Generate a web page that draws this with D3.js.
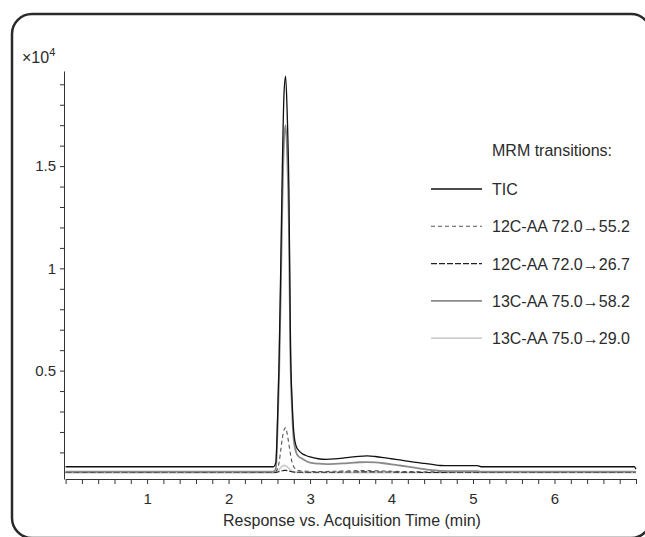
<!DOCTYPE html>
<html>
<head>
<meta charset="utf-8">
<script src="https://cdn.jsdelivr.net/npm/d3@7"></script>
<style>
  body { margin: 0; background: #fff; }
  svg { display: block; }
  text { font-family: "Liberation Sans", Arial, sans-serif; fill: #2b2b2b; }
  .axis path, .axis line { stroke: #333; }
  .axis text { font-size: 15px; fill: #2b2b2b; font-family: "Liberation Sans", Arial, sans-serif; }
</style>
</head>
<body>
<script>
// retention time (min)
var times = [0, 2.55, 2.58, 2.60, 2.62, 2.64, 2.66, 2.68, 2.70, 2.72, 2.74, 2.76, 2.78, 2.80, 2.83, 2.86,
  2.90, 2.95, 3.0, 3.1, 3.2, 3.3, 3.4, 3.5, 3.6, 3.7, 3.8, 3.9, 4.0, 4.1, 4.2, 4.3, 4.4, 4.5, 4.6,
  4.7, 4.8, 4.9, 5.0, 5.05, 5.1, 6.0, 6.98, 7.0];

// responses, x10^4 counts
var tic = [0.03, 0.03, 0.05, 0.25, 0.55, 1.0, 1.5, 1.85, 1.94, 1.75, 1.40, 0.62, 0.35, 0.20, 0.13, 0.11,
  0.095, 0.085, 0.078, 0.069, 0.066, 0.068, 0.072, 0.077, 0.081, 0.083, 0.080, 0.075, 0.069, 0.063, 0.057, 0.051, 0.046, 0.041, 0.036,
  0.035, 0.035, 0.035, 0.035, 0.035, 0.03, 0.03, 0.03, 0.018];
var aa12_552 = [0.004, 0.004, 0.006, 0.02, 0.05, 0.11, 0.17, 0.21, 0.22, 0.19, 0.14, 0.09, 0.05, 0.03, 0.016, 0.011,
  0.009, 0.008, 0.007, 0.007, 0.007, 0.008, 0.009, 0.010, 0.011, 0.011, 0.010, 0.009, 0.008, 0.007, 0.006, 0.006, 0.005, 0.005, 0.005,
  0.005, 0.005, 0.005, 0.005, 0.005, 0.004, 0.004, 0.004, 0.004];
var aa12_267 = [0.002, 0.002, 0.002, 0.004, 0.006, 0.008, 0.010, 0.012, 0.012, 0.011, 0.009, 0.007, 0.005, 0.004, 0.003, 0.003,
  0.003, 0.003, 0.003, 0.003, 0.003, 0.003, 0.004, 0.004, 0.005, 0.005, 0.005, 0.004, 0.004, 0.003, 0.003, 0.003, 0.002, 0.002, 0.002,
  0.002, 0.002, 0.002, 0.002, 0.002, 0.002, 0.002, 0.002, 0.002];
var aa13_582 = [0.006, 0.006, 0.02, 0.2, 0.48, 0.88, 1.32, 1.62, 1.70, 1.55, 1.22, 0.55, 0.30, 0.16, 0.10, 0.08,
  0.07, 0.058, 0.05, 0.045, 0.043, 0.044, 0.046, 0.049, 0.052, 0.053, 0.051, 0.047, 0.042, 0.036, 0.030, 0.024, 0.018, 0.013, 0.010,
  0.008, 0.008, 0.008, 0.008, 0.008, 0.006, 0.006, 0.006, 0.004];
var aa13_290 = [0.0, 0.0, 0.002, 0.008, 0.016, 0.026, 0.033, 0.036, 0.035, 0.030, 0.022, 0.014, 0.008, 0.005, 0.003, 0.002,
  0.002, 0.001, 0.001, 0.001, 0.001, 0.001, 0.001, 0.001, 0.001, 0.001, 0.001, 0.001, 0.001, 0.001, 0.001, 0.001, 0.001, 0.001, 0.001,
  0.001, 0.001, 0.001, 0.001, 0.001, 0.001, 0.001, 0.001, 0.001];

var seriesNames = ["TIC", "12C-AA 72.0\u219255.2", "12C-AA 72.0\u219226.7", "13C-AA 75.0\u219258.2", "13C-AA 75.0\u219229.0"];
var seriesValues = [tic, aa12_552, aa12_267, aa13_582, aa13_290];

var xTickLabels = [1, 2, 3, 4, 5, 6];
var yTickLabels = [0.5, 1, 1.5];

// line looks, same order as seriesNames
var looks = [
  { color: "#111", width: 1.3, dash: null },
  { color: "#555", width: 1.1, dash: "4,3" },
  { color: "#222", width: 1.1, dash: "6,2" },
  { color: "#8a8a8a", width: 1.8, dash: null },
  { color: "#cfcfcf", width: 1.8, dash: null }
];
var drawOrder = [4, 2, 1, 3, 0];

var w = 645, h = 537;

var x = d3.scaleLinear().domain([0, 7]).range([65.6, 636]);
var y = d3.scaleLinear().domain([-0.03, 1.965]).range([479, 71]);

var svg = d3.select("body").append("svg")
  .attr("width", w)
  .attr("height", h);

// rounded frame, runs off the right and bottom edges
svg.append("rect")
  .attr("x", 12)
  .attr("y", 14)
  .attr("width", 639)
  .attr("height", 524)
  .attr("rx", 20)
  .attr("fill", "none")
  .attr("stroke", "#2a2a2a")
  .attr("stroke-width", 2.5);

var xAxis = d3.axisBottom(x)
  .tickValues(d3.range(0, 36).map(function (i) { return i / 5; }))
  .tickSize(5)
  .tickSizeOuter(0)
  .tickPadding(9)
  .tickFormat(function (d) { return xTickLabels.indexOf(Math.round(d * 100) / 100) >= 0 ? d : ""; });

svg.append("g")
  .attr("class", "x axis")
  .attr("transform", "translate(0,479)")
  .call(xAxis);

var yAxis = d3.axisLeft(y)
  .tickValues(d3.range(1, 20).map(function (i) { return i / 10; }))
  .tickSize(4)
  .tickSizeOuter(0)
  .tickPadding(4)
  .tickFormat(function (d) { return yTickLabels.indexOf(Math.round(d * 10) / 10) >= 0 ? d : ""; });

svg.append("g")
  .attr("class", "y axis")
  .attr("transform", "translate(64,0)")
  .call(yAxis);

// scale factor label
var mult = svg.append("text")
  .attr("x", 22)
  .attr("y", 63)
  .style("font-size", "16px")
  .text("\u00d710");
mult.append("tspan")
  .attr("dy", -7)
  .style("font-size", "11px")
  .text("4");

svg.append("text")
  .attr("x", 352)
  .attr("y", 526)
  .attr("text-anchor", "middle")
  .style("font-size", "16px")
  .text("Response vs. Acquisition Time (min)");

var line = d3.line()
  .x(function (d) { return x(d[0]); })
  .y(function (d) { return y(d[1]); })
  .curve(d3.curveMonotoneX);

drawOrder.forEach(function (k) {
  var pts = times.map(function (t, i) { return [t, seriesValues[k][i]]; });
  svg.append("path")
    .datum(pts)
    .attr("fill", "none")
    .attr("stroke", looks[k].color)
    .attr("stroke-width", looks[k].width)
    .attr("stroke-dasharray", looks[k].dash)
    .attr("d", line);
});

// legend
var legend = svg.append("g").attr("transform", "translate(431,156)");

legend.append("text")
  .attr("x", 61)
  .attr("y", 0)
  .style("font-size", "16px")
  .text("MRM transitions:");

var rows = legend.selectAll("g.row")
  .data(seriesNames)
  .enter().append("g")
  .attr("class", "row")
  .attr("transform", function (d, i) { return "translate(0," + (39 + i * 37.3) + ")"; });

rows.append("line")
  .attr("x1", 0)
  .attr("x2", 51)
  .attr("y1", -6)
  .attr("y2", -6)
  .attr("stroke", function (d, i) { return looks[i].color; })
  .attr("stroke-width", function (d, i) { return looks[i].width; })
  .attr("stroke-dasharray", function (d, i) { return looks[i].dash; });

rows.append("text")
  .attr("x", 61)
  .attr("y", 0)
  .style("font-size", "16px")
  .text(function (d) { return d; });
</script>
</body>
</html>
